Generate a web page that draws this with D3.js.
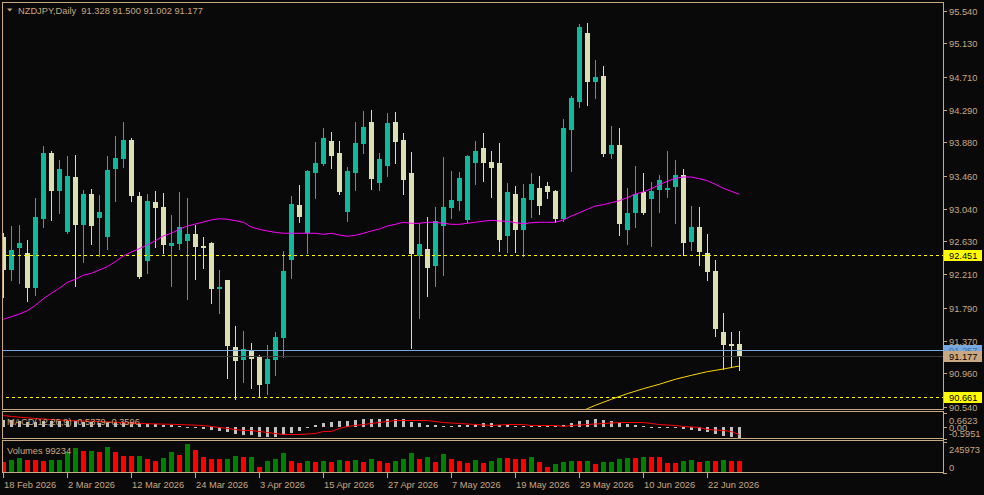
<!DOCTYPE html>
<html>
<head>
<meta charset="utf-8">
<script src="https://cdn.jsdelivr.net/npm/d3@7"></script>
<style>
  html, body { margin: 0; padding: 0; background: #090909; }
  svg { display: block; }
  text { font-family: "Liberation Sans", Arial, sans-serif; font-size: 9.3px; fill: #c8a882; white-space: pre; }
</style>
</head>
<body>
<div id="chart"></div>
<script>
// NZDJPY daily, 93 bars (18 Feb 2026 .. 26 Jun 2026)
var symbol = "NZDJPY,Daily"

var opens = [92.683,92.266,92.544,92.481,92.038,92.910,93.745,93.264,92.746,93.441,
  92.835,93.226,92.923,92.683,93.543,93.669,93.909,93.201,92.379,93.125,
  93.062,92.569,92.594,92.632,92.721,92.569,92.607,92.025,92.139,91.292,
  91.128,91.254,91.178,90.825,91.128,91.406,92.392,93.087,92.733,93.492,
  93.606,93.897,93.745,92.999,93.492,93.859,94.137,93.366,93.580,94.137,
  93.909,93.492,92.443,92.531,92.316,92.822,93.049,93.138,92.898,93.618,
  93.808,93.631,93.618,92.696,93.226,92.771,93.151,93.302,93.328,93.264,
  92.910,94.036,94.390,95.262,94.642,94.718,93.732,93.846,92.771,92.986,
  93.252,93.163,93.277,93.277,93.315,93.467,92.620,92.809,92.481,92.253,
  91.482,91.330,91.328]

var highs = [92.733,92.822,92.835,92.645,93.176,93.833,93.770,93.656,93.707,93.720,
  93.277,93.290,93.214,93.707,93.960,94.137,93.934,93.252,93.226,93.264,
  93.239,92.961,93.252,93.176,92.835,92.683,92.620,92.266,92.139,91.558,
  91.495,91.343,91.191,91.318,91.482,92.506,93.201,93.340,93.530,93.884,
  94.061,94.010,93.897,93.568,94.137,94.276,94.288,93.745,94.250,94.263,
  93.998,93.757,92.860,92.936,93.062,93.694,93.517,93.505,93.720,93.897,
  93.998,93.770,93.871,93.366,93.328,93.353,93.492,93.454,93.378,93.277,
  94.175,94.465,95.376,95.388,94.921,94.845,94.086,94.061,93.302,93.580,
  93.492,93.378,93.467,93.770,93.656,93.543,93.075,93.062,92.721,92.392,
  91.722,91.482,91.500]

var lows = [91.924,92.139,92.101,91.874,91.950,92.809,92.898,92.986,92.733,92.063,
  92.367,92.594,92.443,92.531,93.138,93.568,93.138,92.165,92.228,92.556,
  92.481,92.063,92.531,91.899,92.152,92.291,91.848,91.722,90.900,90.640,
  90.850,90.774,90.661,90.698,90.938,91.166,92.165,92.872,92.481,93.176,
  93.593,93.555,93.226,92.885,93.277,93.745,93.290,93.277,93.454,93.618,
  93.226,91.280,91.659,91.937,92.063,92.202,92.923,93.024,92.872,93.353,
  93.391,93.189,92.506,92.493,92.493,92.443,92.936,92.974,93.176,92.872,
  92.885,93.517,94.326,94.352,94.440,93.707,93.682,92.708,92.594,92.809,
  92.974,92.569,92.999,93.189,92.860,92.451,92.519,92.329,92.139,91.431,
  91.014,91.039,91.002]

var closes = [92.266,92.519,92.607,92.038,92.936,93.745,93.264,93.543,93.454,92.835,
  93.226,92.822,92.999,93.530,93.682,93.909,93.201,92.177,93.138,93.049,
  92.582,92.607,92.809,92.721,92.556,92.544,92.025,92.051,91.305,91.115,
  91.267,91.141,90.812,91.141,91.419,92.253,93.100,92.936,93.517,93.618,
  93.934,93.707,93.252,93.517,93.871,94.074,93.416,93.669,94.124,93.884,
  93.403,92.468,92.594,92.291,92.885,93.062,93.151,93.429,93.707,93.770,
  93.618,93.555,92.645,93.252,92.771,93.176,93.353,93.075,93.252,92.910,
  94.061,94.440,95.338,94.642,94.706,93.732,93.846,92.847,92.986,93.226,
  92.986,93.264,93.403,93.302,93.467,92.607,92.809,92.493,92.240,91.520,
  91.318,91.305,91.177]

// magenta moving average, one value per bar
var maShort = [91.642,91.675,91.709,91.751,91.819,91.903,91.971,92.034,92.110,92.148,
  92.199,92.224,92.266,92.307,92.371,92.443,92.493,92.535,92.582,92.636,
  92.696,92.730,92.780,92.822,92.847,92.872,92.898,92.914,92.907,92.889,
  92.869,92.809,92.780,92.759,92.742,92.730,92.730,92.730,92.730,92.730,
  92.717,92.730,92.708,92.692,92.704,92.730,92.759,92.784,92.822,92.843,
  92.869,92.856,92.856,92.869,92.869,92.856,92.843,92.843,92.856,92.869,
  92.883,92.894,92.885,92.881,92.864,92.851,92.864,92.869,92.869,92.869,
  92.898,92.948,92.990,93.033,93.075,93.091,93.117,93.142,93.180,93.226,
  93.252,93.293,93.344,93.387,93.425,93.441,93.441,93.420,93.395,93.349,
  93.299,93.261,93.223]

// gold long moving average (only visible at the right end)
var maLongBar = [72,73,74,76,78,80,82,84,86,88,90,92]
var maLong = [90.470,90.512,90.555,90.631,90.702,90.765,90.821,90.884,90.934,90.980,91.014,91.052]

// MACD(12,26,9) main (histogram) and signal
var macdMain = [0.32,0.30,0.28,0.22,0.22,0.27,0.28,0.29,0.30,0.26,
  0.25,0.22,0.20,0.22,0.23,0.25,0.22,0.15,0.13,0.13,
  0.097,0.068,0.03,-0.02,-0.063,-0.111,-0.160,-0.208,-0.256,-0.353,
  -0.387,-0.387,-0.484,-0.484,-0.484,-0.387,-0.319,-0.193,-0.063,0.097,
  0.193,0.242,0.276,0.290,0.324,0.37,0.38,0.38,0.38,0.37,
  0.37,0.242,0.179,0.068,0.068,0.034,0.034,0.097,0.097,0.131,
  0.193,0.193,0.082,0.097,0.034,0.034,0.034,0.034,0.034,0.034,
  0.082,0.179,0.276,0.324,0.372,0.324,0.276,0.193,0.131,0.082,
  0.034,-0.039,-0.039,-0.039,-0.039,-0.111,-0.160,-0.208,-0.256,-0.353,
  -0.450,-0.498,-0.5379]
var signalBar = [0,1,4,8,12,17,22,25,27,29,30,31,33,35,37,39,40,41,42,43,44,45,46,47,48,49,53,55,57,59,61,
  63,65,66,69,70,71,73,75,77,80,82,84,85,87,88,90,91,92]
var signal = [0.580,0.517,0.421,0.324,0.261,0.193,0.131,0.068,-0.029,-0.097,-0.160,-0.160,-0.256,-0.353,-0.353,
  -0.290,-0.232,-0.193,-0.063,0.034,0.097,0.131,0.193,0.251,0.290,0.310,0.310,0.227,0.164,0.116,0.068,
  0.131,0.131,0.068,0.068,0.019,0.068,0.131,0.179,0.213,0.213,0.131,0.058,0.019,-0.029,-0.097,-0.160,-0.222,-0.3596]

var volumes = [91000,104500,120000,104000,103500,99000,104000,105000,170000,199000,
  175000,176000,170000,207000,167000,137000,136000,136500,115000,97000,
  120000,167000,144000,230000,183000,128000,112000,111500,112500,136000,
  128000,128500,49500,97000,112000,159000,97000,81000,97000,89000,
  97000,89000,104500,97000,104500,89000,112000,97000,81000,97000,
  112000,159000,112000,128000,89000,152000,112000,97000,81000,104500,
  81000,97000,120500,120000,112500,112000,128000,89000,49500,73000,
  89000,97500,97000,97500,73000,89000,89500,112000,120000,119500,
  128000,127500,127000,81500,81000,97000,104500,89000,99000,98000,
  101000,100000,99234]

// every 8th bar gets a date label
var dateLabels = ["18 Feb 2026","2 Mar 2026","12 Mar 2026","24 Mar 2026","3 Apr 2026","15 Apr 2026",
  "27 Apr 2026","7 May 2026","19 May 2026","29 May 2026","10 Jun 2026","22 Jun 2026"]
var priceTicks = [95.540,95.130,94.710,94.290,93.880,93.460,93.040,92.630,92.210,91.790,91.370,90.960,90.540]

var levelHigh = 92.451, levelLow = 90.661, askPrice = 91.257
var macdMax = 0.6623, macdMin = -0.5951, volMax = 245973

document.addEventListener("DOMContentLoaded", draw)

function draw() {
  var width = 984, height = 495
  var tan = "#c8a882", bull = "#12b89b", bear = "#dcdfb4"

  var svg = d3.select("#chart").append("svg")
    .attr("width", width)
    .attr("height", height)
  svg.append("rect").attr("width", width).attr("height", height).attr("fill", "#090909")

  var n = closes.length
  var x = d3.scaleLinear().domain([0, n - 1]).range([3.3, 739.3])
  var y = d3.scaleLinear().domain([90.540, 95.540]).range([406.5, 11])
  var yM = d3.scaleLinear().domain([macdMin, macdMax]).range([439, 413])
  var yV = d3.scaleLinear().domain([0, volMax]).range([473.3, 442])
  var px = i => Math.round(x(i))

  var defs = svg.append("defs")
  function clip(id, y0, y1) {
    defs.append("clipPath").attr("id", id).append("rect")
      .attr("x", 3).attr("y", y0).attr("width", 940).attr("height", y1 - y0)
  }
  clip("cMain", 3, 410)
  clip("cMacd", 413, 439)
  clip("cVol", 442, 473)

  // dotted yellow pattern for level lines (3 on, 3 off)
  defs.append("pattern").attr("id", "dashY")
    .attr("patternUnits", "userSpaceOnUse")
    .attr("width", 6).attr("height", 1)
    .append("rect").attr("width", 3).attr("height", 1).attr("fill", "#ffff00")

  // ---------- main panel ----------
  var gMain = svg.append("g").attr("clip-path", "url(#cMain)")
  var bars = d3.range(n).map(i => ({ i: i, o: opens[i], h: highs[i], l: lows[i], c: closes[i] }))

  gMain.selectAll("line.wick").data(bars).enter().append("line")
    .attr("class", "wick")
    .attr("x1", d => px(d.i) + 0.5).attr("x2", d => px(d.i) + 0.5)
    .attr("y1", d => Math.round(y(d.h))).attr("y2", d => Math.round(y(d.l)) + 1)
    .attr("stroke", d => d.c >= d.o ? bull : bear)
    .attr("shape-rendering", "crispEdges")

  gMain.selectAll("rect.body").data(bars).enter().append("rect")
    .attr("class", "body")
    .attr("x", d => px(d.i) - 2)
    .attr("width", 5)
    .attr("y", d => Math.round(y(Math.max(d.o, d.c))))
    .attr("height", d => Math.max(1, Math.round(y(Math.min(d.o, d.c))) - Math.round(y(Math.max(d.o, d.c)))))
    .attr("fill", d => d.c >= d.o ? bull : bear)
    .attr("shape-rendering", "crispEdges")

  // moving averages
  gMain.append("path")
    .datum(maShort.map((v, i) => [i, v]))
    .attr("d", d3.line().x(d => x(d[0])).y(d => y(d[1])))
    .attr("fill", "none").attr("stroke", "#ff00ff").attr("stroke-width", 1)
  gMain.append("path")
    .datum(maLong.map((v, i) => [maLongBar[i], v]))
    .attr("d", d3.line().x(d => x(d[0])).y(d => y(d[1])))
    .attr("fill", "none").attr("stroke", "#ffd700").attr("stroke-width", 1)

  // horizontal price lines
  function hline(v, color) {
    gMain.append("rect")
      .attr("x", 3).attr("width", 940)
      .attr("y", Math.round(y(v))).attr("height", 1)
      .attr("fill", color)
      .attr("shape-rendering", "crispEdges")
  }
  hline(levelHigh, "url(#dashY)")
  hline(levelLow, "url(#dashY)")
  hline(askPrice, "#78a8e0")
  hline(closes[n - 1], "#3a3a3a")

  // header
  svg.append("path").attr("d", "M7,8.5L12.5,8.5L9.75,11.5Z").attr("fill", tan)
  svg.append("text").attr("x", 18).attr("y", 13.5)
    .text(symbol + "  " + [opens[n - 1], highs[n - 1], lows[n - 1], closes[n - 1]].map(v => v.toFixed(3)).join(" "))

  // ---------- MACD panel ----------
  var gMacd = svg.append("g").attr("clip-path", "url(#cMacd)")
  var zero = Math.round(yM(0))
  gMacd.selectAll("rect").data(macdMain).enter().append("rect")
    .attr("x", (d, i) => px(i) - 1)
    .attr("width", 3)
    .attr("y", d => d >= 0 ? Math.min(zero - 1, Math.round(yM(d))) : zero)
    .attr("height", d => Math.max(1, Math.abs(Math.round(yM(d)) - zero)))
    .attr("fill", "#c0c0c0")
    .attr("shape-rendering", "crispEdges")
  svg.append("text").attr("x", 7).attr("y", 425)
    .text("MACD(12,26,9) " + macdMain[n - 1].toFixed(4) + " " + signal[signal.length - 1].toFixed(4))
  gMacd.append("path")
    .datum(signal.map((v, i) => [signalBar[i], v]))
    .attr("d", d3.line().x(d => x(d[0])).y(d => Math.round(yM(d[1])) + 0.5))
    .attr("fill", "none").attr("stroke", "#ff0000").attr("stroke-width", 1)

  // ---------- Volumes panel ----------
  var gVol = svg.append("g").attr("clip-path", "url(#cVol)")
  gVol.selectAll("rect").data(volumes).enter().append("rect")
    .attr("x", (d, i) => px(i) - 2)
    .attr("width", 5)
    .attr("y", d => Math.round(yV(d)))
    .attr("height", d => Math.round(yV(0)) - Math.round(yV(d)))
    .attr("fill", (d, i) => i > 0 && d > volumes[i - 1] ? "#008000" : "#ff0000")
    .attr("shape-rendering", "crispEdges")
  svg.append("text").attr("x", 7).attr("y", 454)
    .text("Volumes " + volumes[n - 1])

  // ---------- frames ----------
  var frames = [[3, 410], [412, 439], [441, 473]]
  svg.selectAll("rect.frame").data(frames).enter().append("rect")
    .attr("class", "frame")
    .attr("x", 2.5).attr("y", d => d[0] - 0.5)
    .attr("width", 941).attr("height", d => d[1] - d[0])
    .attr("fill", "none").attr("stroke", tan)
    .attr("shape-rendering", "crispEdges")

  // ---------- right axis ----------
  var axisG = svg.append("g")
  axisG.selectAll("line.pt").data(priceTicks).enter().append("line")
    .attr("x1", 943).attr("x2", 947)
    .attr("y1", d => Math.round(y(d)) + 0.5).attr("y2", d => Math.round(y(d)) + 0.5)
    .attr("stroke", tan).attr("shape-rendering", "crispEdges")
  axisG.selectAll("text.pt").data(priceTicks).enter().append("text")
    .attr("x", 949).attr("y", d => Math.round(y(d)) + 3.5)
    .text(d => d.toFixed(3))

  function priceBox(v, fill, color) {
    var cy = Math.round(y(v))
    axisG.append("rect").attr("x", 944).attr("y", cy - 5).attr("width", 38).attr("height", 11)
      .attr("fill", fill).attr("shape-rendering", "crispEdges")
    axisG.append("text").attr("x", 949).attr("y", cy + 3.5).style("fill", color).text(v.toFixed(3))
  }
  priceBox(levelHigh, "#ffff00", "#000")
  priceBox(levelLow, "#ffff00", "#000")
  priceBox(askPrice, "#78a8e0", "#3f6ea6")
  priceBox(closes[n - 1], tan, "#000")

  // MACD / volume scale labels
  var sideTicks = [[yM(macdMax), yM(macdMax) + 7, macdMax.toFixed(4)], [yM(0), yM(0) + 0.5, "0.00"],
    [yM(macdMin), yM(macdMin) - 6, macdMin.toFixed(4)],
    [yV(volMax), yV(volMax) + 7, String(volMax)], [yV(0), yV(0) - 6, "0"]]
  axisG.selectAll("line.st").data(sideTicks).enter().append("line")
    .attr("x1", 943).attr("x2", 947)
    .attr("y1", d => Math.round(d[0]) + 0.5).attr("y2", d => Math.round(d[0]) + 0.5)
    .attr("stroke", tan).attr("shape-rendering", "crispEdges")
  axisG.selectAll("text.st").data(sideTicks).enter().append("text")
    .attr("x", 949).attr("y", d => d[1] + 3.5)
    .text(d => d[2])

  // ---------- date axis ----------
  var dateG = svg.append("g")
  dateG.selectAll("line").data(dateLabels).enter().append("line")
    .attr("x1", (d, i) => px(i * 8) + 0.5).attr("x2", (d, i) => px(i * 8) + 0.5)
    .attr("y1", 473).attr("y2", 478)
    .attr("stroke", tan).attr("shape-rendering", "crispEdges")
  dateG.selectAll("text").data(dateLabels).enter().append("text")
    .attr("x", (d, i) => px(i * 8) + 1).attr("y", 488)
    .text(d => d)
}
</script>
</body>
</html>
